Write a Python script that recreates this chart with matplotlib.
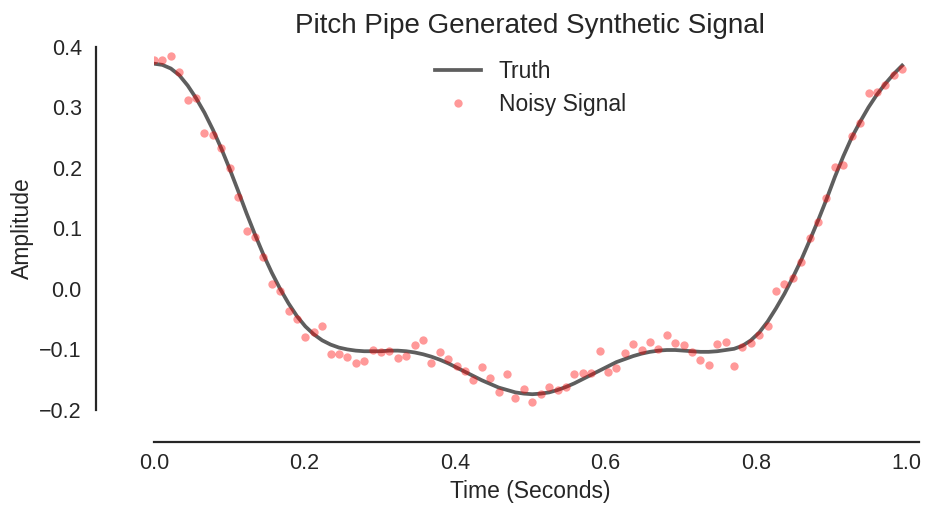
import numpy as np
import matplotlib
matplotlib.use("Agg")
import matplotlib.pyplot as plt


# sample times (90 samples, roughly evenly spaced over the second)
N_SAMPLES = 90
T_LAST = 0.994

# noisy samples
noisy = [
    0.378, 0.378, 0.385, 0.359, 0.312, 0.316, 0.257, 0.254, 0.233, 0.200,
    0.152, 0.096, 0.085, 0.052, 0.008, -0.003, -0.037, -0.050, -0.080, -0.072,
    -0.061, -0.107, -0.108, -0.112, -0.123, -0.119, -0.101, -0.105, -0.103, -0.115,
    -0.111, -0.093, -0.085, -0.123, -0.104, -0.116, -0.128, -0.136, -0.151, -0.129,
    -0.147, -0.170, -0.141, -0.181, -0.165, -0.187, -0.174, -0.162, -0.167, -0.162,
    -0.140, -0.139, -0.139, -0.102, -0.138, -0.131, -0.106, -0.091, -0.101, -0.088,
    -0.099, -0.077, -0.089, -0.092, -0.104, -0.117, -0.126, -0.091, -0.088, -0.128,
    -0.096, -0.089, -0.077, -0.062, -0.003, 0.008, 0.018, 0.044, 0.084, 0.110,
    0.150, 0.202, 0.204, 0.253, 0.274, 0.323, 0.326, 0.337, 0.353, 0.364,
]

# underlying clean signal, read at the same sample times
truth = [
    0.372, 0.370, 0.364, 0.353, 0.336, 0.315, 0.291, 0.263, 0.232, 0.198,
    0.162, 0.125, 0.090, 0.057, 0.027, 0.000, -0.024, -0.045, -0.062, -0.075,
    -0.085, -0.092, -0.097, -0.100, -0.102, -0.103, -0.103, -0.103, -0.102, -0.102,
    -0.103, -0.105, -0.108, -0.112, -0.117, -0.123, -0.130, -0.137, -0.144, -0.151,
    -0.157, -0.163, -0.167, -0.171, -0.173, -0.174, -0.173, -0.171, -0.167, -0.162,
    -0.156, -0.149, -0.142, -0.135, -0.128, -0.121, -0.116, -0.111, -0.107, -0.104,
    -0.102, -0.101, -0.101, -0.102, -0.103, -0.104, -0.104, -0.103, -0.101, -0.099,
    -0.094, -0.085, -0.072, -0.054, -0.032, -0.008, 0.019, 0.048, 0.080, 0.113,
    0.148, 0.185, 0.219, 0.250, 0.276, 0.300, 0.321, 0.339, 0.355, 0.369,
]

y_ticks = [-0.2, -0.1, 0.0, 0.1, 0.2, 0.3, 0.4]
x_ticks = [0.0, 0.2, 0.4, 0.6, 0.8, 1.0]

plt.rcParams["font.family"] = ["Liberation Sans", "DejaVu Sans"]

t = np.linspace(0, T_LAST, N_SAMPLES)

fig = plt.figure(figsize=(9.28, 5.08), dpi=100)
ax = fig.add_axes([0.166, 0.193, 0.811, 0.715])

ax.plot(t, truth, color="#5e5e5e", linewidth=2.7, label="Truth", zorder=2)
ax.plot(t, noisy, "o", color="red", alpha=0.4, markersize=6, markeredgewidth=0,
        label="Noisy Signal", zorder=3)

ax.set_xlim(0, 1.0)
ax.set_ylim(-0.2, 0.4)
ax.set_xticks(x_ticks)
ax.set_yticks(y_ticks)
ax.set_xticklabels(["{:.1f}".format(v) for v in x_ticks])
ax.set_yticklabels(["{:.1f}".format(v).replace("-", "\u2212") for v in y_ticks])
ax.tick_params(length=0, labelsize=15.5, colors="#262626")
ax.tick_params(axis="x", pad=8)
ax.tick_params(axis="y", pad=10)

for side in ["top", "right"]:
    ax.spines[side].set_visible(False)
ax.spines["left"].set_position(("outward", 42))
ax.spines["bottom"].set_position(("outward", 23))
ax.spines["bottom"].set_bounds(0, 1.017)
for side in ["left", "bottom"]:
    ax.spines[side].set_linewidth(1.6)
    ax.spines[side].set_color("#262626")

ax.set_title("Pitch Pipe Generated Synthetic Signal", fontsize=20, color="#262626", pad=10)
ax.set_xlabel("Time (Seconds)", fontsize=16.5, color="#262626")
ax.set_ylabel("Amplitude", fontsize=16.5, color="#262626")

ax.legend(loc="upper center", frameon=False, fontsize=16.5, numpoints=1,
          borderaxespad=0.2, handlelength=2.0, labelspacing=0.4,
          labelcolor="#262626")

fig.savefig("out.png", dpi=100)
